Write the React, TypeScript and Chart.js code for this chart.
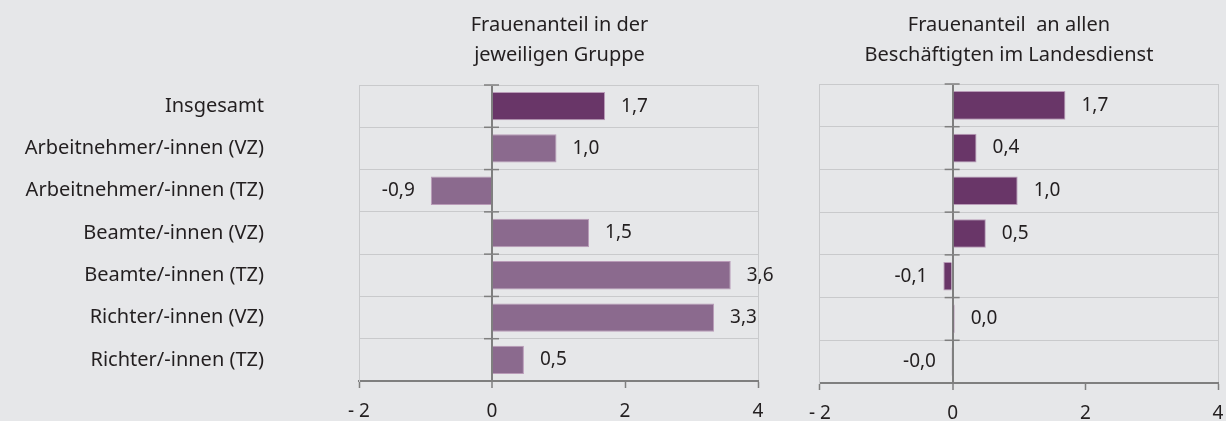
import React, { useEffect, useRef } from "react";
import { Chart, registerables } from "chart.js";

Chart.register(...registerables);

const categories = [
  "Insgesamt",
  "Arbeitnehmer/-innen (VZ)",
  "Arbeitnehmer/-innen (TZ)",
  "Beamte/-innen (VZ)",
  "Beamte/-innen (TZ)",
  "Richter/-innen (VZ)",
  "Richter/-innen (TZ)",
];
const groupShare = [1.7, 0.97, -0.92, 1.46, 3.59, 3.34, 0.48];
const totalShare = [1.7, 0.36, 0.98, 0.5, -0.14, 0.03, -0.01];
const xTickValues = [-2, 0, 2, 4];
const leftTitle = ["Frauenanteil in der", "jeweiligen Gruppe"];
const rightTitle = ["Frauenanteil  an allen", "Beschäftigten im Landesdienst"];

const FONT = "'Noto Sans', sans-serif";
const FS = 19;
const FS_LABEL = 20;
const TEXT = "#231f20";
const DARK = "#693668";
const LIGHT = "#8b6a8e";
const GRID = "#c9cacc";
const AXIS = "#7f7f7f";
const BG = "#e6e7e9";

const fmt = (v: number) => v.toFixed(1).replace(".", ",");
const fmtTick = (v: number) => (v < 0 ? "- " + Math.abs(v) : String(v));

const decoPlugin = {
  id: "deco",
  afterDraw(chart: any, _args: any, opts: any) {
    const { ctx, chartArea } = chart;
    const xs = chart.scales.x;
    const ys = chart.scales.y;
    const x0 = xs.getPixelForValue(0);
    ctx.save();
    // tick marks at zero line on category boundaries
    ctx.strokeStyle = AXIS;
    ctx.lineWidth = 1.5;
    const n = ys.ticks.length;
    const step = ys.getPixelForValue(1) - ys.getPixelForValue(0);
    for (let i = 0; i < n; i++) {
      const yb = ys.getPixelForValue(i) - step / 2;
      ctx.beginPath();
      ctx.moveTo(x0 - 8, yb);
      ctx.lineTo(x0 + 7, yb);
      ctx.stroke();
    }
    // value labels
    ctx.fillStyle = TEXT;
    ctx.font = `${FS}px ${FONT}`;
    ctx.textBaseline = "middle";
    const meta = chart.getDatasetMeta(0);
    const data = chart.data.datasets[0].data as number[];
    meta.data.forEach((bar: any, i: number) => {
      const v = data[i];
      if (v < 0) {
        ctx.textAlign = "right";
        ctx.fillText(fmt(v), bar.x - 16, bar.y);
      } else {
        ctx.textAlign = "left";
        ctx.fillText(fmt(v), bar.x + 16, bar.y);
      }
    });
    // title
    const lines: string[] = opts.lines || [];
    const cx = (chartArea.left + chartArea.right) / 2 + (opts.dx || 0);
    ctx.font = `${FS_LABEL}px ${FONT}`;
    ctx.textAlign = "center";
    ctx.textBaseline = "alphabetic";
    lines.forEach((l, i) => ctx.fillText(l, cx, 31 + i * 30));
    ctx.restore();
  },
};

function makeConfig(
  values: number[],
  colors: string[],
  showLabels: boolean,
  yWidth: number,
  padding: any,
  xHeight: number,
  title: string[],
  dx: number
): any {
  return {
    type: "bar",
    data: {
      labels: categories,
      datasets: [
        {
          data: values,
          backgroundColor: colors,
          borderColor: "#b99bb8",
          borderWidth: 1,
          barPercentage: 0.67,
          categoryPercentage: 1,
        },
      ],
    },
    plugins: [decoPlugin],
    options: {
      indexAxis: "y",
      animation: false,
      responsive: false,
      maintainAspectRatio: false,
      devicePixelRatio: 1,
      layout: { padding },
      plugins: {
        legend: { display: false },
        tooltip: { enabled: false },
        title: { display: false },
        deco: { lines: title, dx },
      },
      scales: {
        x: {
          type: "linear",
          min: -2,
          max: 4,
          afterBuildTicks: (scale: any) => {
            scale.ticks = xTickValues.map((v) => ({ value: v }));
          },
          afterFit: (scale: any) => {
            scale.height = xHeight;
          },
          ticks: {
            callback: (v: any) => fmtTick(Number(v)),
            color: TEXT,
            font: { family: FONT, size: FS },
            padding: 12,
            maxRotation: 0,
          },
          grid: {
            color: (c: any) =>
              c.tick && c.tick.value === 0 ? AXIS : c.tick && c.tick.value === 2 ? "rgba(0,0,0,0)" : GRID,
            lineWidth: (c: any) => (c.tick && c.tick.value === 0 ? 2 : 1),
            tickColor: AXIS,
            tickLength: 7,
            tickWidth: 1.5,
          },
          border: { color: AXIS, width: 2 },
        },
        y: {
          type: "category",
          afterFit: (scale: any) => {
            scale.width = yWidth;
            scale.paddingTop = 0;
            scale.paddingBottom = 0;
          },
          ticks: {
            display: showLabels,
            color: TEXT,
            font: { family: FONT, size: FS_LABEL },
            padding: 95,
          },
          grid: {
            offset: true,
            color: GRID,
            lineWidth: 1,
            drawTicks: false,
          },
          border: { color: GRID, width: 1 },
        },
      },
    },
  };
}

function BarPanel(props: {
  left: number;
  top: number;
  width: number;
  height: number;
  config: any;
}) {
  const ref = useRef<HTMLCanvasElement | null>(null);
  useEffect(() => {
    if (!ref.current) return;
    const chart = new Chart(ref.current, props.config);
    return () => chart.destroy();
  }, []);
  return (
    <canvas
      ref={ref}
      width={props.width}
      height={props.height}
      style={{
        position: "absolute",
        left: props.left,
        top: props.top,
        width: props.width,
        height: props.height,
      }}
    />
  );
}

export default function App() {
  const leftColors = groupShare.map((_, i) => (i === 0 ? DARK : LIGHT));
  const rightColors = totalShare.map(() => DARK);
  const leftCfg = makeConfig(groupShare, leftColors, true, 359, { left: 0, right: 20, top: 85, bottom: 0 }, 40, leftTitle, 1);
  const rightCfg = makeConfig(totalShare, rightColors, false, 0, { left: 20, right: 20, top: 84, bottom: 0 }, 38, rightTitle, -10);
  return (
    <div
      style={{
        position: "fixed",
        left: 0,
        top: 0,
        width: 1226,
        height: 421,
        overflow: "hidden",
        background: BG,
      }}
    >
      <BarPanel left={0} top={0} width={778} height={421} config={leftCfg} />
      <BarPanel left={797} top={0} width={441} height={421} config={rightCfg} />
    </div>
  );
}
